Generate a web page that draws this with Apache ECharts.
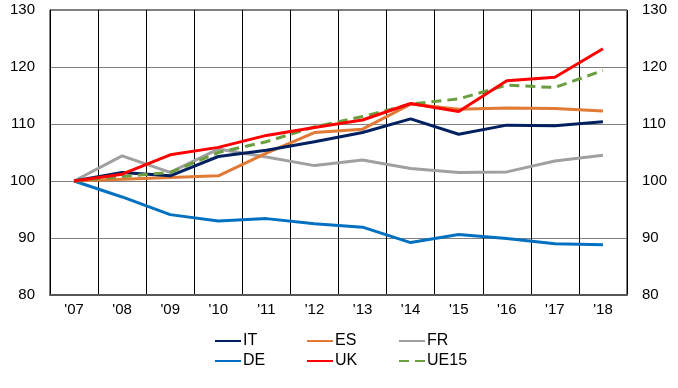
<!DOCTYPE html>
<html>
<head>
<meta charset="utf-8">
<script src="https://cdn.jsdelivr.net/npm/echarts@6/dist/echarts.min.js"></script>
<style>html,body{margin:0;padding:0;background:#fff}#c{width:678px;height:388px}</style>
</head>
<body>
<div id="c"></div>
<script>
var categories = ["'07","'08","'09","'10","'11","'12","'13","'14","'15","'16","'17","'18"];
var IT   = [100, 101.5, 100.9, 104.3, 105.4, 106.9, 108.5, 110.9, 108.2, 109.8, 109.7, 110.4];
var ES   = [100, 100.3, 100.6, 100.9, 104.9, 108.5, 109.1, 113.5, 112.6, 112.8, 112.7, 112.3];
var FR   = [100, 104.4, 101.5, 105.6, 104.2, 102.7, 103.7, 102.2, 101.5, 101.6, 103.5, 104.5];
var DE   = [100, 97.2, 94.1, 93.0, 93.4, 92.5, 91.9, 89.2, 90.6, 89.9, 89.0, 88.8];
var UK   = [100, 101.2, 104.6, 105.9, 108.0, 109.4, 110.7, 113.6, 112.2, 117.6, 118.2, 123.2];
var UE15 = [100, 100.8, 101.5, 105.0, 106.9, 109.5, 111.3, 113.5, 114.4, 116.8, 116.4, 119.4];
var yTicks = [80, 90, 100, 110, 120, 130];

var font = 'Liberation Sans, Arial, sans-serif';
function line(name, data, color, dashed, z) {
  return {
    name: name, type: 'line', data: data, symbol: 'none', z: z,
    lineStyle: { color: color, width: 3, type: dashed ? [10, 6] : 'solid' },
    itemStyle: { color: color }
  };
}
function legend(name, left, top) {
  return {
    data: [name], left: left, top: top, itemWidth: 26, itemHeight: 14,
    padding: 0, selectedMode: false,
    itemStyle: { opacity: 0 },
    textStyle: { fontFamily: font, fontSize: 16, color: '#000', padding: [0, 0, 0, -3] }
  };
}
var yAxisCommon = {
  type: 'value', min: yTicks[0], max: yTicks[yTicks.length - 1], interval: 10,
  axisTick: { show: false },
  axisLabel: { fontFamily: font, fontSize: 15, color: '#000', margin: 15 }
};
var chart = echarts.init(document.getElementById('c'), null, { renderer: 'canvas' });
chart.setOption({
  animation: false,
  grid: { left: 50, right: 51, top: 10, bottom: 93, show: true, borderColor: '#000', borderWidth: 1 },
  legend: [
    legend('IT', 214, 333), legend('ES', 306, 333), legend('FR', 398, 333),
    legend('DE', 214, 353), legend('UK', 306, 353), legend('UE15', 398, 353)
  ],
  xAxis: {
    type: 'category', data: categories, boundaryGap: true,
    axisTick: { show: false },
    axisLine: { lineStyle: { color: '#555', width: 2 } },
    splitLine: { show: true, lineStyle: { color: '#000', width: 1 } },
    axisLabel: { fontFamily: font, fontSize: 15, color: '#000', margin: 7, interval: 0 }
  },
  yAxis: [
    Object.assign({}, yAxisCommon, {
      position: 'left',
      axisLine: { show: true, lineStyle: { color: '#000', width: 1 } },
      splitLine: { show: true, lineStyle: { color: '#808080', width: 1 } }
    }),
    Object.assign({}, yAxisCommon, {
      position: 'right',
      axisLine: { show: false },
      splitLine: { show: false }
    })
  ],
  series: [
    line('FR', FR, '#a0a0a0', false, 2),
    line('DE', DE, '#0070c0', false, 3),
    line('ES', ES, '#e07a35', false, 4),
    line('IT', IT, '#002060', false, 5),
    line('UE15', UE15, '#6a9e3e', true, 6),
    line('UK', UK, '#ff0000', false, 7)
  ]
});
</script>
</body>
</html>
